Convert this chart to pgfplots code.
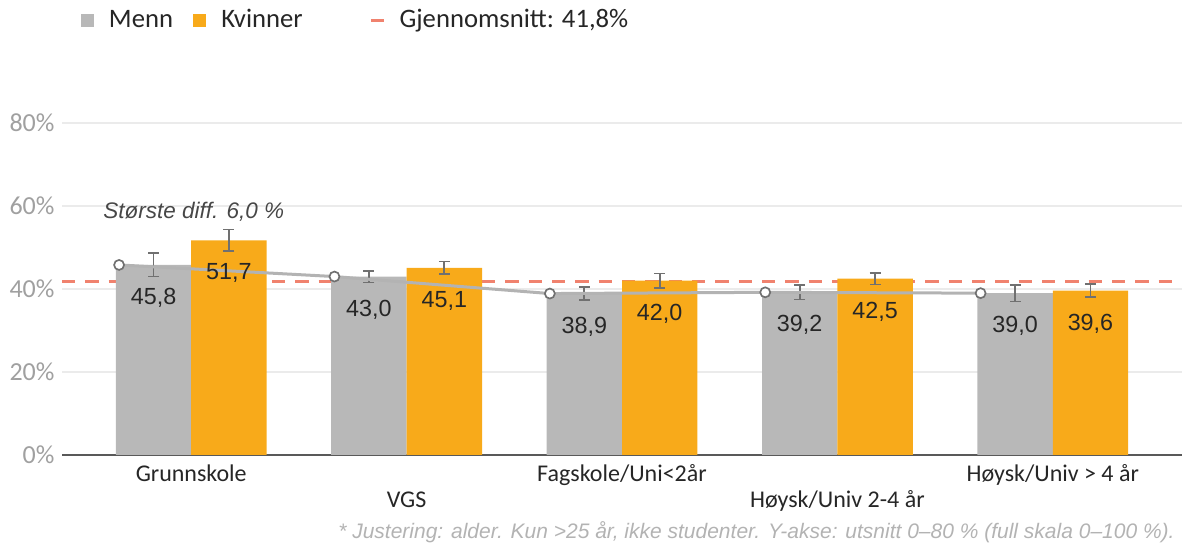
\documentclass[border=0pt]{standalone}
\usepackage{pgfplots}
\pgfplotsset{compat=1.18}
\usepackage{fontspec}
\setmainfont{Carlito}
\newfontfamily\arialf{Liberation Sans}
\definecolor{barGray}{HTML}{B8B8B8}
\definecolor{barOrange}{HTML}{F8AA1A}
\definecolor{avgRed}{HTML}{F0826E}
\definecolor{errGray}{HTML}{707070}
\definecolor{lineGray}{HTML}{B3B3B3}
\definecolor{gridGray}{HTML}{EBEBEB}
\definecolor{axisGray}{HTML}{595959}
\definecolor{tickGray}{HTML}{A0A0A0}
\definecolor{txtDark}{HTML}{262626}
\begin{document}
\begin{tikzpicture}
\begin{axis}[
  scale only axis,
  width=672pt, height=199.2pt,
  xmin=-0.6, xmax=4.6, ymin=0, ymax=80,
  clip=false,
  axis x line*=bottom,
  axis y line*=left,
  x axis line style={draw=axisGray, line width=1.2pt},
  y axis line style={draw=none},
  major tick length=0pt,
  ytick={0,20,40,60,80},
  yticklabel={\pgfmathprintnumber{\tick}\%},
  yticklabel style={font=\fontsize{15.6}{18}\selectfont, color=tickGray, /pgf/number format/assume math mode=true, xshift=-1pt},
  xtick={0,1,2,3,4},
  xticklabels={\strut Grunnskole,{\strut\\VGS},\strut Fagskole/Uni<2år,{\strut\\Høysk/Univ 2-4 år},\strut Høysk/Univ > 4 år},
  xticklabel style={font=\fontsize{14.4}{15.6}\selectfont, color=txtDark, align=center, anchor=north, yshift=-1.4pt},
  ymajorgrids,
  grid style={color=gridGray, line width=1.2pt},
  legend columns=-1,
  legend style={draw=none, fill=none, at={(0,1)}, anchor=west, xshift=8pt, yshift=61.8pt,
    font=\fontsize{16}{18}\selectfont, text=txtDark,
    /tikz/every even column/.append style={column sep=10pt},
    legend cell align=left},
]
\addlegendimage{area legend, fill=barGray, draw=none, legend image code/.code={\fill[barGray] (0pt,-3.9pt) rectangle (7.8pt,3.9pt); \path (15pt,0pt);}}
\addlegendentry{Menn}
\addlegendimage{area legend, fill=barOrange, draw=none, legend image code/.code={\fill[barOrange] (0pt,-3.9pt) rectangle (7.8pt,3.9pt); \path (15pt,0pt);}}
\addlegendentry{Kvinner\hspace*{28pt}}
\addlegendimage{legend image code/.code={\draw[avgRed, line width=1.8pt] (0pt,0pt) -- (7.8pt,0pt); \path (15pt,0pt);}}
\addlegendentry{Gjennomsnitt: 41,8\%}

% average line
\addplot[avgRed, line width=1.8pt, dash pattern=on 8pt off 6pt, forget plot] coordinates {(-0.6,41.8) (4.6,41.8)};

% bars Menn (centred at group - 0.175)
\addplot[ybar, bar width=0.35, bar shift=0, fill=barGray, draw=none, forget plot,
  nodes near coords,
  every node near coord/.append style={font=\arialf\fontsize{14}{16}\selectfont, text=txtDark, anchor=center, yshift=-19.8pt,
    /pgf/number format/.cd, fixed, fixed zerofill, precision=1, use comma, assume math mode=true},
  error bars/.cd, y dir=both, y explicit,
  error bar style={color=errGray, line width=1pt},
  error mark options={color=errGray, line width=1pt, mark size=3.3pt, rotate=90}]
  coordinates {(-0.175,45.8) +- (0,2.8) (0.825,43.0) +- (0,1.4) (1.825,38.9) +- (0,1.6) (2.825,39.2) +- (0,1.7) (3.825,39.0) +- (0,2.0)};
% bars Kvinner (centred at group + 0.175)
\addplot[ybar, bar width=0.35, bar shift=0, fill=barOrange, draw=none, forget plot,
  nodes near coords,
  every node near coord/.append style={font=\arialf\fontsize{14}{16}\selectfont, text=txtDark, anchor=center, yshift=-19.8pt,
    /pgf/number format/.cd, fixed, fixed zerofill, precision=1, use comma, assume math mode=true},
  error bars/.cd, y dir=both, y explicit,
  error bar style={color=errGray, line width=1pt},
  error mark options={color=errGray, line width=1pt, mark size=3.3pt, rotate=90}]
  coordinates {(0.175,51.7) +- (0,2.6) (1.175,45.1) +- (0,1.5) (2.175,42.0) +- (0,1.7) (3.175,42.5) +- (0,1.4) (4.175,39.6) +- (0,1.6)};

% line
\addplot[lineGray, line width=1.8pt, mark=*, mark size=3pt, mark options={fill=white, draw=errGray, line width=1pt}, forget plot]
  coordinates {(-0.335,45.8) (0.665,43.0) (1.665,38.9) (2.665,39.2) (3.665,39.0)};

\node[anchor=west, font=\arialf\itshape\fontsize{13.5}{15}\selectfont, text=txtDark!85, inner sep=0pt] at (axis cs:-0.41,58.6) {Største diff. 6,0 \%};
\end{axis}
\node[anchor=east, inner sep=0pt, font=\arialf\itshape\fontsize{12.6}{14}\selectfont, text=tickGray!80] at (667.8pt,-46.2pt) {* Justering: alder. Kun >25 år, ikke studenter. Y-akse: utsnitt 0–80 \% (full skala 0–100 \%).};
\pgfresetboundingbox
\path (-37.2pt,-55.8pt) rectangle (672pt,273pt);
\end{tikzpicture}
\end{document}
